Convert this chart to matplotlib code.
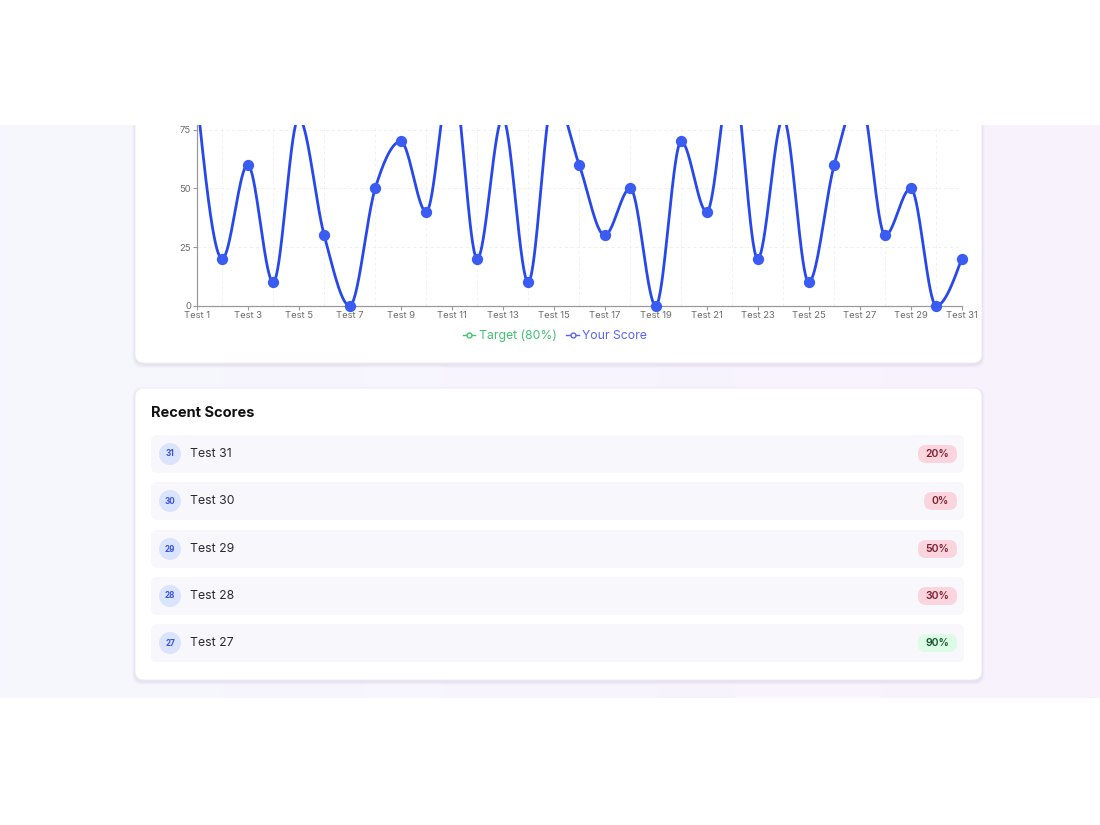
import numpy as np
import matplotlib
matplotlib.use("Agg")
from matplotlib import pyplot as plt
from matplotlib.patches import FancyBboxPatch, Rectangle, Circle
from matplotlib.lines import Line2D

plt.rcParams['font.family'] = ['Inter', 'DejaVu Sans']

# ---- data ----
tests = [f"Test {i}" for i in range(1, 32)]
scores = [90, 20, 60, 10, 80, 30, 0, 50, 70, 40, 100, 20, 80, 10, 90, 60,
          30, 50, 0, 70, 40, 100, 20, 80, 10, 60, 90, 30, 50, 0, 20]
target = 80
recent_ids = [31, 30, 29, 28, 27]
recent_scores = [20, 0, 50, 30, 90]

W, H = 1100, 825
fig = plt.figure(figsize=(11, 8.25), dpi=100)


def fx(x):
    return x / W


def fy(y):
    return 1 - y / H


# background layer in pixel coords
bg = fig.add_axes([0, 0, 1, 1], zorder=0)
bg.set_xlim(0, W)
bg.set_ylim(H, 0)
bg.axis('off')
grad = np.linspace(0, 1, 256)[None, :, None]
c0 = np.array([246, 247, 254]) / 255
c1 = np.array([249, 242, 253]) / 255
img = c0 * (1 - grad) + c1 * grad
bg.imshow(img, extent=(0, W, 698, 125), aspect='auto', zorder=0)


def card(x0, y0, x1, y1):
    for k, a in [(6, 0.02), (4, 0.03), (2, 0.05)]:
        bg.add_patch(FancyBboxPatch((x0 - k / 2, y0 - k / 2 + 2), x1 - x0 + k, y1 - y0 + k,
                                    boxstyle="round,pad=0,rounding_size=10",
                                    fc=(0.4, 0.35, 0.55, a), ec='none', zorder=1))
    bg.add_patch(FancyBboxPatch((x0, y0), x1 - x0, y1 - y0,
                                boxstyle="round,pad=0,rounding_size=9",
                                fc='white', ec='#ece9f3', lw=0.6, zorder=2))


card(135, 60, 982, 363)
card(135, 388, 982, 680)

# ---- chart ----
def monotone(xs, ys, n=40):
    xs = np.asarray(xs, float)
    ys = np.asarray(ys, float)
    h = np.diff(xs)
    s = np.diff(ys) / h
    t = np.zeros_like(ys)
    for i in range(1, len(ys) - 1):
        p = (s[i - 1] * h[i] + s[i] * h[i - 1]) / (h[i - 1] + h[i])
        t[i] = (np.sign(s[i - 1]) + np.sign(s[i])) * min(abs(s[i - 1]), abs(s[i]), 0.5 * abs(p))
    t[0] = (3 * s[0] - t[1]) / 2
    t[-1] = (3 * s[-1] - t[-2]) / 2
    px, py = [], []
    for i in range(len(xs) - 1):
        u = np.linspace(0, 1, n)
        h00 = 2 * u**3 - 3 * u**2 + 1
        h10 = u**3 - 2 * u**2 + u
        h01 = -2 * u**3 + 3 * u**2
        h11 = u**3 - u**2
        px.append(xs[i] + u * h[i])
        py.append(h00 * ys[i] + h10 * h[i] * t[i] + h01 * ys[i + 1] + h11 * h[i] * t[i + 1])
    return np.concatenate(px), np.concatenate(py)


ax = fig.add_axes([fx(196.7), fy(305.7), fx(961.7 - 196.7), (305.7 - 125) / H], zorder=3)
ax.patch.set_alpha(0)
x = np.arange(1, len(scores) + 1)
ax.set_xlim(1, len(scores))
ax.set_ylim(0, 77.0)

ax.set_yticks([0, 25, 50, 75])
ax.set_xticks(x[::2])
ax.set_xticklabels(tests[::2])
ax.set_xticks(x, minor=True)
ax.grid(True, which='minor', axis='x', color='#f1f1f3', ls=(0, (3, 3)), lw=0.7)
ax.grid(True, which='major', axis='y', color='#efeff1', ls=(0, (3, 3)), lw=0.7)
ax.tick_params(which='minor', length=0)
ax.tick_params(which='major', length=3, color='#9a9a9a', labelsize=6.8,
               labelcolor='#6b6b6b', pad=1)
for sp in ['top', 'right']:
    ax.spines[sp].set_visible(False)
for sp in ['left', 'bottom']:
    ax.spines[sp].set_color('#9a9a9a')
    ax.spines[sp].set_linewidth(0.9)

ax.plot(x, [target] * len(x), color='#3fbf6a', lw=1.5, ls=(0, (5, 4)))
cx, cy = monotone(x, scores)
ax.plot(cx, cy, color='#2748ec', lw=2.0, zorder=4)
ax.scatter(x, scores, s=66, color='#3a5cf3', zorder=5, clip_on=False, lw=0)

handles = [Line2D([], [], color='#41c272', marker='o', markersize=3.5, mfc='white', lw=1),
           Line2D([], [], color='#5b63f5', marker='o', markersize=3.5, mfc='white', lw=1)]
fig.legend(handles, ['Target (80%)', 'Your Score'], loc='center',
           bbox_to_anchor=(fx(555), fy(336)), ncol=2, frameon=False,
           fontsize=8.8, handlelength=1.0, handletextpad=0.3, columnspacing=0.8,
           labelcolor=['#41c272', '#5b63f5'])

# ---- foreground: covers for header/footer and recent scores ----
fg = fig.add_axes([0, 0, 1, 1], zorder=6)
fg.set_xlim(0, W)
fg.set_ylim(H, 0)
fg.axis('off')
fg.patch.set_alpha(0)
fg.add_patch(Rectangle((0, 0), W, 125, fc='white', ec='none'))
fg.add_patch(Rectangle((0, 698), W, H - 698, fc='white', ec='none'))

fg.text(151, 413, "Recent Scores", fontsize=10.5, fontweight='bold', color='#111111',
        va='center', ha='left')

row_y = [454, 501, 549, 596, 643]
for yc, tid, sc in zip(row_y, recent_ids, recent_scores):
    fg.add_patch(FancyBboxPatch((151, yc - 19), 964 - 151, 38,
                                boxstyle="round,pad=0,rounding_size=6",
                                fc='#f8f7fc', ec='none'))
    fg.add_patch(Circle((170, yc), 11, fc='#dbe4fd', ec='none'))
    fg.text(170, yc, str(tid), fontsize=5.8, fontweight='bold', color='#3b52e0',
            ha='center', va='center')
    fg.text(190, yc, f"Test {tid}", fontsize=8.8, color='#2b2b2b', ha='left', va='center')
    label = f"{sc}%"
    good = sc >= target
    pw = 33 if sc < 10 else 39
    fg.add_patch(FancyBboxPatch((957 - pw, yc - 9), pw, 18,
                                boxstyle="round,pad=0,rounding_size=8",
                                fc='#dcfce6' if good else '#fbd5dd', ec='none'))
    fg.text(957 - pw / 2, yc, label, fontsize=7.5, fontweight='semibold',
            color='#14532d' if good else '#7f1d2d', ha='center', va='center')

fig.savefig('out.png', dpi=100)
